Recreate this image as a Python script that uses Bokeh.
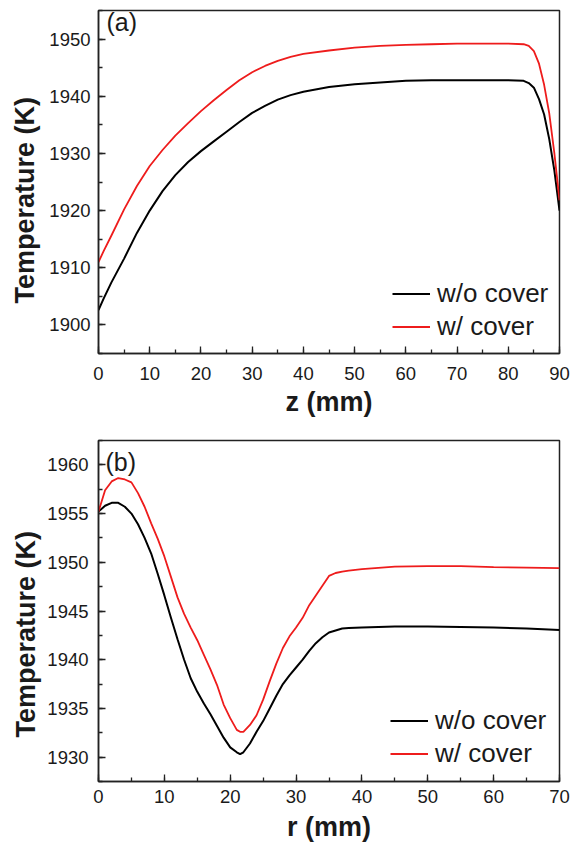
from bokeh.plotting import figure
from bokeh.layouts import column
from bokeh.models import Range1d, SingleIntervalTicker, Label, Title
from bokeh.embed import file_html
from bokeh.resources import INLINE

# ---------------- data: panel (a) ----------------
z_mm = [0, 1, 2.5, 5, 7.5, 10, 12.5, 15, 17.5, 20, 22.5, 25, 27.5, 30, 32.5, 35,
        37.5, 40, 45, 50, 55, 60, 65, 70, 75, 80, 83, 84, 85, 86, 87, 88, 89, 90]
Tz_without = [1902.6, 1904.6, 1907.4, 1911.6, 1916.1, 1920.0, 1923.4, 1926.2, 1928.5,
              1930.4, 1932.1, 1933.8, 1935.5, 1937.1, 1938.3, 1939.4, 1940.2, 1940.8,
              1941.6, 1942.1, 1942.4, 1942.7, 1942.8, 1942.8, 1942.8, 1942.8, 1942.7,
              1942.3, 1941.5, 1939.5, 1936.8, 1932.5, 1927.0, 1920.0]
Tz_with = [1911.0, 1912.9, 1915.6, 1920.2, 1924.3, 1927.8, 1930.6, 1933.1, 1935.3,
           1937.4, 1939.3, 1941.1, 1942.8, 1944.2, 1945.3, 1946.2, 1946.9, 1947.4,
           1948.0, 1948.5, 1948.8, 1949.0, 1949.1, 1949.2, 1949.2, 1949.2, 1949.1,
           1948.8, 1947.9, 1945.7, 1942.0, 1937.0, 1930.0, 1921.8]

# ---------------- data: panel (b) ----------------
r_mm = [0, 1, 2, 3, 4, 5, 6, 7, 8, 9, 10, 11, 12, 13, 14, 15, 16, 17, 18, 19, 20,
        21, 21.5, 22, 23, 24, 25, 26, 27, 28, 29, 30, 31, 32, 33, 34, 35, 36, 37,
        38, 40, 45, 50, 55, 60, 65, 70]
Tr_without = [1955.2, 1955.8, 1956.1, 1956.1, 1955.7, 1955.0, 1953.9, 1952.5, 1950.9,
              1948.8, 1946.6, 1944.3, 1942.1, 1940.0, 1938.1, 1936.7, 1935.5, 1934.4,
              1933.2, 1932.0, 1931.0, 1930.5, 1930.3, 1930.5, 1931.4, 1932.6, 1933.7,
              1935.0, 1936.3, 1937.5, 1938.4, 1939.2, 1940.0, 1940.9, 1941.7, 1942.3,
              1942.8, 1943.0, 1943.2, 1943.25, 1943.3, 1943.4, 1943.4, 1943.35, 1943.3,
              1943.2, 1943.05]
Tr_with = [1955.2, 1957.4, 1958.3, 1958.65, 1958.5, 1958.2, 1957.1, 1955.7, 1954.0,
           1952.4, 1950.6, 1948.5, 1946.4, 1944.7, 1943.3, 1942.0, 1940.5, 1939.0,
           1937.4, 1935.4, 1934.0, 1932.8, 1932.6, 1932.6, 1933.3, 1934.3, 1935.9,
           1937.8, 1939.6, 1941.2, 1942.4, 1943.3, 1944.3, 1945.6, 1946.6, 1947.6,
           1948.6, 1948.9, 1949.05, 1949.15, 1949.3, 1949.55, 1949.6, 1949.6, 1949.5,
           1949.45, 1949.4]

series_labels = ["w/o cover", "w/ cover"]
series_colors = ["#000000", "#ee1c1c"]
y_label = "Temperature (K)"

FONT = "Liberation Sans"
TXT = "#1a1a1a"


def make_panel(x, ys, xr, yr, xlabel, tag, ytick, width, height,
               bl, br, bt, bb, xstand, xlab_stand, ystand, ylab_stand, ylab_shift,
               tag_dx, tag_dy, leg_loc):
    p = figure(width=width, height=height, output_backend="svg",
               toolbar_location=None, x_range=Range1d(*xr), y_range=Range1d(*yr),
               min_border_left=bl, min_border_right=br, min_border_top=bt,
               min_border_bottom=bb)
    p.grid.visible = False
    p.outline_line_color = "#222222"
    p.outline_line_width = 1.5
    p.background_fill_color = "white"
    p.border_fill_color = "white"

    p.xaxis.ticker = SingleIntervalTicker(interval=10, num_minor_ticks=2)
    p.yaxis.ticker = SingleIntervalTicker(interval=ytick, num_minor_ticks=2)
    for ax in (p.xaxis, p.yaxis):
        ax.axis_line_color = "#222222"
        ax.axis_line_width = 1.5
        ax.major_tick_line_color = "#222222"
        ax.minor_tick_line_color = "#222222"
        ax.major_tick_line_width = 1.3
        ax.minor_tick_line_width = 1.3
        ax.major_tick_in = 7
        ax.major_tick_out = 0
        ax.minor_tick_in = 4
        ax.minor_tick_out = 0
        ax.major_label_text_font = FONT
        ax.major_label_text_font_size = "18.5px"
        ax.major_label_text_color = TXT
    p.yaxis.major_label_standoff = ystand
    p.xaxis.major_label_standoff = xstand
    p.xaxis.axis_label = xlabel
    p.xaxis.axis_label_text_font = FONT
    p.xaxis.axis_label_text_font_style = "bold"
    p.xaxis.axis_label_text_font_size = "27px"
    p.xaxis.axis_label_text_color = TXT
    p.xaxis.axis_label_standoff = xlab_stand

    widths = [2.0, 1.8]
    for yv, lab, col, lw in zip(ys, series_labels, series_colors, widths):
        p.line(x, yv, line_color=col, line_width=lw, legend_label=lab)

    lg = p.legend[0]
    lg.location = leg_loc
    lg.padding = 0
    lg.margin = 0
    lg.spacing = 2
    lg.border_line_color = None
    lg.background_fill_alpha = 0
    lg.glyph_width = 38
    lg.glyph_height = 29
    lg.label_height = 29
    lg.label_standoff = 7
    lg.label_text_font = FONT
    lg.label_text_font_size = "26px"
    lg.label_text_color = TXT

    p.add_layout(Title(text=y_label, align="left", offset=ylab_shift,
                       text_font=FONT, text_font_style="bold",
                       text_font_size="27px", text_color=TXT, standoff=ylab_stand),
                 "left")
    p.add_layout(Label(x=xr[0], y=yr[1], x_offset=tag_dx, y_offset=tag_dy,
                       text=tag, text_font=FONT, text_font_size="25px",
                       text_color=TXT, text_align="left", text_baseline="top"))
    return p


p1 = make_panel(z_mm, [Tz_without, Tz_with], (0, 90), (1895, 1955), "z (mm)", "(a)",
                10, 576, 430, 98, 12, 10, 77, 13, 4, 8, 13, 50, 8, 3, (294, 11))
p2 = make_panel(r_mm, [Tr_without, Tr_with], (0, 70), (1927.5, 1962.5), "r (mm)", "(b)",
                5, 576, 416, 93, 17, 10, 65, 8, 6, 10, 7, 44, 7, -7, (292, 12))

layout = column(p1, p2, spacing=0)
open("out.html", "w").write(file_html(layout, INLINE))
